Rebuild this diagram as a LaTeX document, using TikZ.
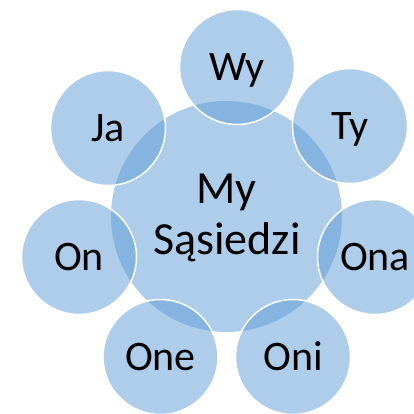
\documentclass[tikz,border=0pt]{standalone}
\usepackage{fontspec}
\setmainfont{Carlito}
\definecolor{acc}{RGB}{91,155,213}
\begin{document}
\begin{tikzpicture}[x=1pt,y=-1pt,
  bubble/.style={circle,fill=acc,fill opacity=0.5,draw=white,line width=1.5pt,minimum size=115pt,inner sep=0pt},
  hub/.style={circle,fill=acc,fill opacity=0.5,draw=none,minimum size=231pt,inner sep=0pt},
  lbl/.style={font=\fontsize{42}{53}\selectfont,text=black,text opacity=1,anchor=base,inner sep=0pt},
  hublbl/.style={lbl,font=\fontsize{46}{53}\selectfont}]
\useasboundingbox (0,0) rectangle (414,414);
\node[hub] (c) at (226.5,216.5) {};
\node[bubble] (wy) at (237,67) {};
\node[bubble] (ty) at (350,126) {};
\node[bubble] (ona) at (375,257) {};
\node[bubble] (oni) at (293,357) {};
\node[bubble] (one) at (160.5,357) {};
\node[bubble] (on) at (79,257) {};
\node[bubble] (ja) at (108,128) {};
\node[hublbl] (tc1) at (226.5,203) {My};
\node[hublbl] (tc2) at (227,254.5) {Sąsiedzi};
\node[lbl] (twy) at ([yshift=-13.5pt]wy.center) {Wy};
\node[lbl] (tty) at ([yshift=-13.5pt]ty.center) {Ty};
\node[lbl] (tona) at ([yshift=-13.5pt]ona.center) {Ona};
\node[lbl] (toni) at ([yshift=-13.5pt]oni.center) {Oni};
\node[lbl] (tone) at ([yshift=-13.5pt]one.center) {One};
\node[lbl] (ton) at ([yshift=-13.5pt]on.center) {On};
\node[lbl] (tja) at ([yshift=-13.5pt]ja.center) {Ja};
\end{tikzpicture}
\end{document}
